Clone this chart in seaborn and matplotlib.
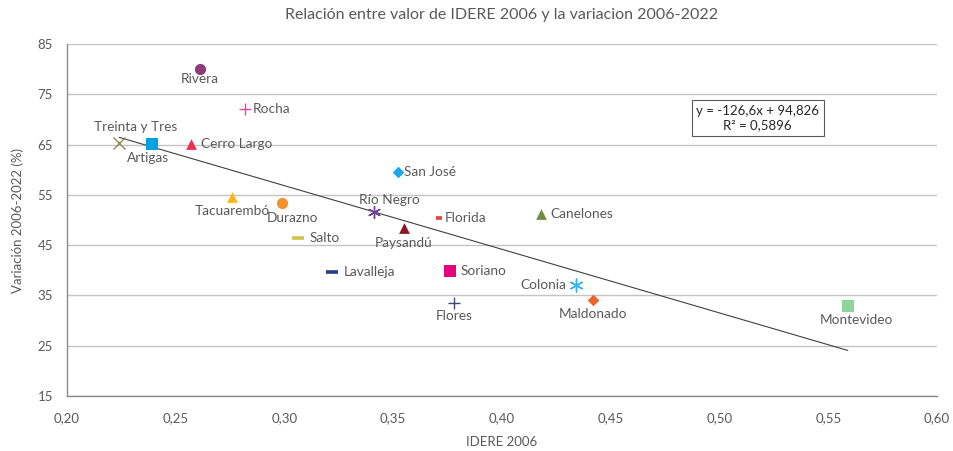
import matplotlib
matplotlib.use("Agg")
import matplotlib.pyplot as plt
import matplotlib.ticker as mticker
import numpy as np
import seaborn as sns

# departamentos: IDERE 2006 vs variación 2006-2022
names = ["Rivera", "Rocha", "Treinta y Tres", "Artigas", "Cerro Largo", "Tacuarembó",
         "Durazno", "San José", "Río Negro", "Florida", "Canelones", "Paysandú",
         "Salto", "Lavalleja", "Soriano", "Colonia", "Flores", "Maldonado", "Montevideo"]
idere = [0.261, 0.282, 0.224, 0.239, 0.257, 0.276,
         0.299, 0.352, 0.341, 0.371, 0.418, 0.355,
         0.306, 0.322, 0.376, 0.434, 0.378, 0.442, 0.559]
variacion = [80.1, 72.1, 65.3, 65.2, 65.2, 54.5,
             53.4, 59.5, 51.7, 50.5, 51.2, 48.5,
             46.5, 39.6, 39.8, 37.1, 33.5, 34.1, 33.0]

markers = ["o", "+", "x", "s", "^", "^",
           "o", "D", (6, 2, 0), "_", "^", "^",
           "_", "_", "s", (6, 2, 0), "+", "D", "s"]
colors = ["#8e3b7d", "#e8489a", "#8c8a4e", "#00a2e3", "#e8324e", "#fdb614",
          "#f39130", "#1ba7ea", "#6c3f98", "#e8413a", "#6e8f43", "#8b1624",
          "#d2c14c", "#283c8c", "#e4037f", "#36b1e6", "#3c4a6a", "#f2622b", "#8fd49c"]
sizes = [65, 75, 75, 75, 60, 60,
         65, 35, 75, 25, 60, 60,
         70, 70, 70, 85, 70, 35, 70]
# label placement: (dx, dy) in points, horizontal alignment
label_pos = [(0, -7.5, "center"), (5.5, 0, "left"), (11.5, 11.5, "center"),
             (-2.7, -10, "center"), (7, 0, "left"), (0, -10, "center"),
             (7.4, -10.5, "center"), (4.5, 0, "left"), (11.5, 8.6, "center"),
             (4.5, 0, "left"), (7, 0, "left"), (0, -11, "center"),
             (8.6, 0, "left"), (8, 0, "left"), (7.7, 0, "left"),
             (-7, 0, "right"), (0, -9.4, "center"), (0, -10, "center"),
             (6.5, -10.5, "center")]

slope, intercept, r2 = -126.6, 94.826, 0.5896

sns.set_theme(style="white")
plt.rcParams["font.family"] = ["Lato", "DejaVu Sans"]
grey = "#595959"

fig = plt.figure(figsize=(9.54, 4.51), dpi=100)
ax = fig.add_axes([0.0702, 0.122, 0.912, 0.780])

for x, y, m, c, s in zip(idere, variacion, markers, colors, sizes):
    filled = m in ("o", "s", "^", "D")
    lw = 0 if filled else (2.6 if m == "_" else 1.0)
    sns.scatterplot(x=[x], y=[y], marker=m, color=c, s=s, ax=ax,
                    linewidth=lw, edgecolor=c if not filled else None,
                    zorder=3)

# linear trendline (Excel)
xs = np.array([min(idere), max(idere)])
sns.lineplot(x=xs, y=slope * xs + intercept, color="#404040", lw=0.8, ax=ax, zorder=2)

for n, x, y, (dx, dy, ha) in zip(names, idere, variacion, label_pos):
    ax.annotate(n, (x, y), xytext=(dx, dy), textcoords="offset points",
                ha=ha, va="center", fontsize=9.8, color=grey, zorder=4)

ax.text(0.794, 0.79, f"y = {slope:.1f}x + {intercept:.3f}\nR² = {r2:.4f}".replace(".", ","),
        transform=ax.transAxes, ha="center", va="center", fontsize=9.5, color="#262626",
        linespacing=1.2,
        bbox=dict(boxstyle="square,pad=0.35", fc="white", ec="#595959", lw=0.8))

ax.set_xlim(0.20, 0.60)
ax.set_ylim(15, 85)
ax.xaxis.set_major_locator(mticker.MultipleLocator(0.05))
ax.set_yticks(np.arange(15, 86, 10))
ax.xaxis.set_major_formatter(mticker.FuncFormatter(lambda v, p: f"{v:.2f}".replace(".", ",")))
ax.grid(axis="y", color="#c4c4c4", lw=1)
ax.grid(axis="x", visible=False)
for side in ("top", "right"):
    ax.spines[side].set_visible(False)
for side in ("left", "bottom"):
    ax.spines[side].set_color("#8c8c8c")
    ax.spines[side].set_linewidth(1)
ax.tick_params(axis="both", which="major", direction="out", length=4, width=1,
               color="#8c8c8c", labelsize=9.5, labelcolor=grey, pad=6)
ax.tick_params(axis="x", pad=8)

ax.set_xlabel("IDERE 2006", fontsize=9.5, color=grey, labelpad=8)
ax.set_ylabel("Variación 2006-2022 (%)", fontsize=9.5, color=grey, labelpad=10)
ax.set_title("Relación entre valor de IDERE 2006 y la variacion 2006-2022",
             fontsize=11.5, color=grey, pad=18)

fig.savefig("out.png", dpi=100)
